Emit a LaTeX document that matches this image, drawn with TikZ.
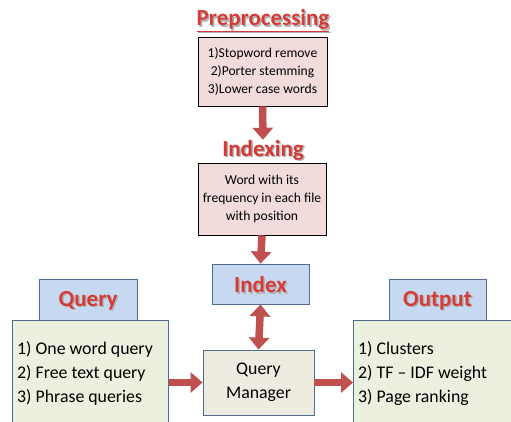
\documentclass[tikz,border=0pt]{standalone}
\usepackage{fontspec}
\setmainfont{Carlito}
\usetikzlibrary{arrows.meta}
\definecolor{arr}{HTML}{C0504D}
\definecolor{ttl}{HTML}{D43B36}
\definecolor{pinkf}{HTML}{F2DCDB}
\definecolor{bluef}{HTML}{C6D9F1}
\definecolor{blueb}{HTML}{4F6D8F}
\definecolor{greenf}{HTML}{EBF1DE}
\definecolor{beigef}{HTML}{EEECE1}
\tikzset{
  fatarrow/.style={draw=arr, line width=7.5pt, -{Triangle[width=20pt,length=12pt]}},
  fatdouble/.style={draw=arr, line width=7.5pt, {Triangle[width=20pt,length=12pt]}-{Triangle[width=20pt,length=12pt]}},
  title/.style={text=ttl, font=\bfseries\fontsize{23}{25}\selectfont, inner sep=0pt},
  shadowtitle/.style={text=black!30, font=\bfseries\fontsize{23}{25}\selectfont, inner sep=0pt},
  pinkbox/.style={draw=black, line width=0.8pt, fill=pinkf, align=center, font=\fontsize{13.6}{17.8}\selectfont},
  tab/.style={draw=blueb, line width=0.8pt, fill=bluef},
  listbox/.style={draw=blueb, line width=0.8pt, fill=greenf},
  listtext/.style={anchor=north west, align=left, font=\fontsize{17.8}{24}\selectfont, inner sep=0pt},
}
\begin{document}
\begin{tikzpicture}[x=1pt,y=-1pt]
\useasboundingbox (0,0) rectangle (511,421);
\begin{scope}
\clip (0,0) rectangle (511,421);
% Preprocessing
\node[shadowtitle] (pretitles) at (264.5,22) {\underline{Preprocessing}};
\node[title] (pretitle) at (263,20.5) {\underline{Preprocessing}};
\node[pinkbox, minimum width=129pt, minimum height=69pt] (pre) at (262.5,71.5) {1)Stopword remove\\2)Porter stemming\\3)Lower case words};
% Indexing
\node[shadowtitle] (idxtitles) at (264.5,151.5) {Indexing};
\node[title] (idxtitle) at (263,150) {Indexing};
\node[pinkbox, minimum width=128pt, minimum height=72pt] (idx) at (262,199) {Word with its\\frequency in each file\\with position};
% Index
\node[tab, minimum width=97pt, minimum height=40pt] (index) at (260.5,284) {};
\node[shadowtitle] (indexts) at (262,286.5) {Index};
\node[title] (indext) at (260.5,285) {Index};
% Query manager
\node[draw=blueb, line width=0.8pt, fill=beigef, minimum width=111pt, minimum height=65pt, align=center, font=\fontsize{17.8}{24}\selectfont] (qm) at (258.5,382.5) {Query\\Manager};
% Query
\node[tab, minimum width=98pt, minimum height=41pt] (qtab) at (88,299.5) {};
\node[shadowtitle] (qts) at (89.5,302) {Query};
\node[title] (qt) at (88,300.5) {Query};
\node[listbox, minimum width=156pt, minimum height=130pt, anchor=north west] (qbox) at (12,320) {};
\node[listtext] (qlist) at (17,341) {1) One word query\\2) Free text query\\3) Phrase queries};
% Output
\node[tab, minimum width=97pt, minimum height=41pt] (otab) at (437.5,299.5) {};
\node[shadowtitle] (ots) at (439,302) {Output};
\node[title] (ot) at (437.5,300.5) {Output};
\node[listbox, minimum width=200pt, minimum height=130pt, anchor=north west] (obox) at (353,320) {};
\node[listtext] (olist) at (358,341) {1) Clusters\\2) TF -- IDF weight\\3) Page ranking};
% arrows
\draw[fatarrow] (pre.south) -- (idxtitle.north);
\draw[fatarrow] (idx.south) -- (index.north);
\draw[fatdouble] (index.south) -- (qm.north);
\coordinate (qa) at (qbox.east |- qm.center);
\coordinate (oa) at (obox.west |- qm.center);
\draw[fatarrow] (qa) -- (qm.west);
\draw[fatarrow] (qm.east) -- (oa);
\end{scope}
\end{tikzpicture}
\end{document}
